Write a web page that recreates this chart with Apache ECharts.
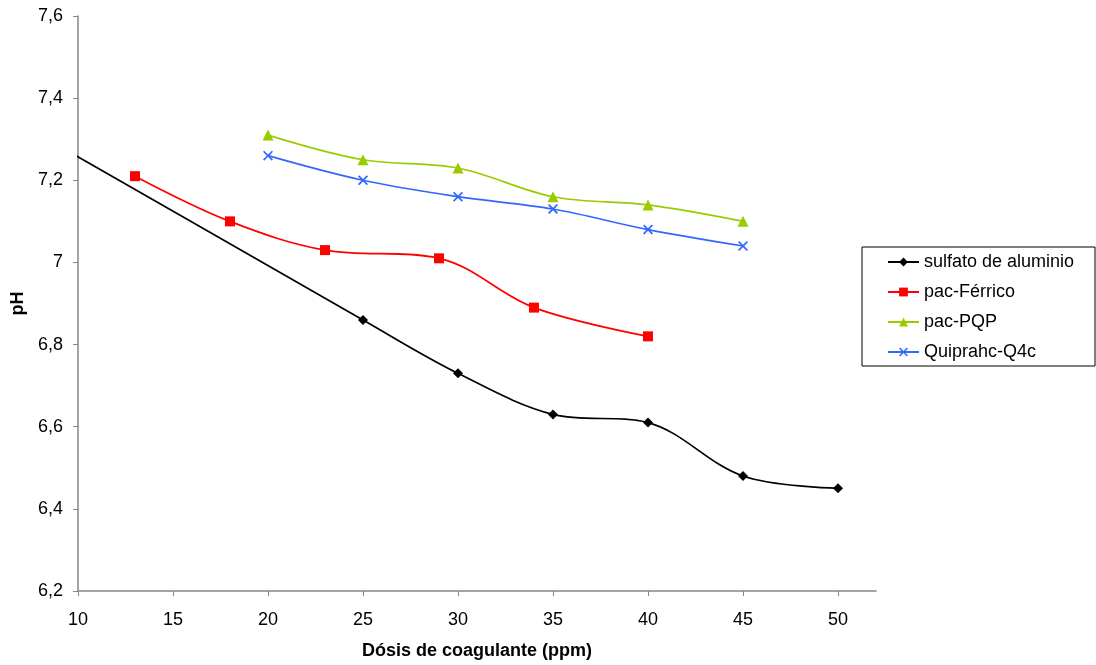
<!DOCTYPE html>
<html>
<head>
<meta charset="utf-8">
<script src="https://cdn.jsdelivr.net/npm/echarts@6/dist/echarts.min.js"></script>
<style>html,body{margin:0;padding:0;background:#fff;}#c{width:1096px;height:665px;}</style>
</head>
<body>
<div id="c"></div>
<script>
const xTicks = [10, 15, 20, 25, 30, 35, 40, 45, 50];
const seriesNames = ['sulfato de aluminio', 'pac-Férrico', 'pac-PQP', 'Quiprahc-Q4c'];
const sulfatoX = [5, 25, 30, 35, 40, 45, 50];
const sulfatoY = [7.39, 6.86, 6.73, 6.63, 6.61, 6.48, 6.45];
const ferricoX = [13, 18, 23, 29, 34, 40];
const ferricoY = [7.21, 7.10, 7.03, 7.01, 6.89, 6.82];
const pqpX = [20, 25, 30, 35, 40, 45];
const pqpY = [7.31, 7.25, 7.23, 7.16, 7.14, 7.10];
const q4cX = [20, 25, 30, 35, 40, 45];
const q4cY = [7.26, 7.20, 7.16, 7.13, 7.08, 7.04];

const pairs = (xs, ys) => xs.map((x, i) => [x, ys[i]]);
const font = 'Liberation Sans, Arial, sans-serif';
const axisGray = '#868686';
const xMark = 'path://M0,1.2L1.2,0L5,3.8L8.8,0L10,1.2L6.2,5L10,8.8L8.8,10L5,6.2L1.2,10L0,8.8L3.8,5Z';

function mk(name, data, color, symbol, size) {
  return {
    name: name, type: 'line', data: data, smooth: 0.35,
    symbol: symbol, symbolSize: size, showSymbol: true,
    lineStyle: { color: color, width: 1.7 },
    itemStyle: { color: color },
    clip: true, animation: false
  };
}

const chart = echarts.init(document.getElementById('c'), null, { renderer: 'canvas' });
chart.setOption({
  animation: false,
  backgroundColor: '#fff',
  textStyle: { fontFamily: font },
  grid: { left: 78, right: 220, top: 16, bottom: 74, containLabel: false },
  graphic: [{
    type: 'rect', z: 0,
    shape: { x: 862, y: 247, width: 233, height: 119 },
    style: { fill: '#fff', stroke: '#000', lineWidth: 1 }
  }],
  legend: {
    orient: 'vertical', left: 887, top: 253, padding: 0,
    itemWidth: 31, itemHeight: 11, itemGap: 12,
    textStyle: { fontSize: 18, color: '#000', fontFamily: font, lineHeight: 18 },
    data: seriesNames
  },
  xAxis: {
    type: 'value', min: 10, max: 52, interval: 5,
    name: 'Dósis de coagulante (ppm)', nameLocation: 'middle', nameGap: 51,
    nameTextStyle: { fontSize: 18, fontWeight: 'bold', color: '#000', fontFamily: font },
    axisLine: { show: true, onZero: false, lineStyle: { color: axisGray, width: 1.5 } },
    axisTick: { show: true, length: 5, lineStyle: { color: axisGray }, customValues: xTicks },
    axisLabel: { fontSize: 18, color: '#000', margin: 20, fontFamily: font, customValues: xTicks },
    splitLine: { show: false }
  },
  yAxis: {
    type: 'value', min: 6.2, max: 7.6, interval: 0.2,
    name: 'pH', nameLocation: 'middle', nameGap: 51, nameRotate: 90,
    nameTextStyle: { fontSize: 18, fontWeight: 'bold', color: '#000', fontFamily: font },
    axisLine: { show: true, lineStyle: { color: axisGray, width: 1.5 } },
    axisTick: { show: true, length: 5, lineStyle: { color: axisGray } },
    axisLabel: {
      fontSize: 18, color: '#000', margin: 15, fontFamily: font,
      formatter: v => String(Math.round(v * 10) / 10).replace('.', ',')
    },
    splitLine: { show: false }
  },
  series: [
    mk(seriesNames[0], pairs(sulfatoX, sulfatoY), '#000000', 'diamond', 10),
    mk(seriesNames[1], pairs(ferricoX, ferricoY), '#ff0000', 'rect', 10),
    mk(seriesNames[2], pairs(pqpX, pqpY), '#99cc00', 'triangle', 11),
    mk(seriesNames[3], pairs(q4cX, q4cY), '#3366ff', xMark, 10)
  ]
});
</script>
</body>
</html>
